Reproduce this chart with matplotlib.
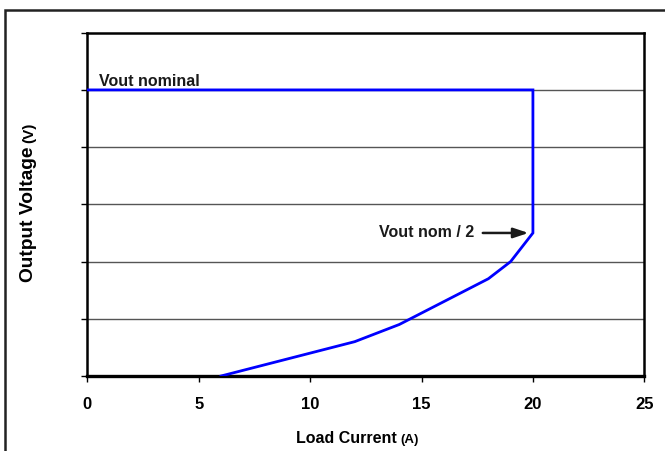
import numpy as np
import matplotlib.pyplot as plt
from matplotlib.patches import Rectangle

plt.rcParams['font.family'] = ['Liberation Sans', 'DejaVu Sans']
plt.rcParams['font.weight'] = 'bold'

# Foldback current-limit curve of the output stage
load_current = [0, 20, 20, 19, 18, 14, 12, 6]
output_voltage = [5, 5, 2.5, 2.0, 1.7, 0.9, 0.6, 0]

x_ticks = [0, 5, 10, 15, 20, 25]
y_ticks = [0, 1, 2, 3, 4, 5, 6]

W, H = 665, 451
fig = plt.figure(figsize=(W / 100, H / 100), dpi=100)

def px(x, y):
    return x / W, 1 - y / H

# frame around the figure (open at right and bottom)
fig.patches.append(Rectangle(px(5, 460), 700 / W, 450 / H, transform=fig.transFigure,
                             fill=False, edgecolor='#222222', linewidth=1.8))

l, t = px(87.4, 32.7)
r, b = px(644.3, 376)
ax = fig.add_axes([l, b, r - l, t - b])

for v in y_ticks[1:-1]:
    ax.axhline(v, color='#555555', linewidth=1.0, zorder=1)

ax.plot(load_current, output_voltage, color='#0000ff', linewidth=2.0, zorder=3,
        solid_joinstyle='miter')

ax.set_xlim(0, 25)
ax.set_ylim(0, 6)
ax.set_xticks(x_ticks)
ax.set_yticks(y_ticks)
ax.set_yticklabels([])
ax.tick_params(axis='x', length=4, width=1, pad=11, labelsize=12, colors='black')
ax.tick_params(axis='y', length=4, width=1, colors='black')
for lab in ax.get_xticklabels():
    lab.set_fontweight('bold')
for s in ax.spines.values():
    s.set_linewidth(1.8)
ax.spines['bottom'].set_linewidth(2.4)

ax.text(0.5, 5.07, 'Vout nominal', fontsize=11.5, fontweight='bold', color='#1a1a1a',
        ha='left', va='baseline')
ax.annotate('', xy=(19.8, 2.5), xytext=(17.75, 2.5),
            arrowprops=dict(arrowstyle='-|>,head_length=0.9,head_width=0.3',
                            color='#1a1a1a', linewidth=1.8, shrinkA=0, shrinkB=0))
ax.text(17.35, 2.5, 'Vout nom / 2', fontsize=11.5, fontweight='bold', color='#1a1a1a',
        ha='right', va='center')

# axis titles with smaller unit text
fig.text(*px(397, 443), 'Load Current', fontsize=11.5, fontweight='bold',
         ha='right', va='baseline')
fig.text(*px(400, 443), '(A)', fontsize=9.5, fontweight='bold',
         ha='left', va='baseline')
fig.text(*px(33, 282), 'Output Voltage', fontsize=13.8, fontweight='bold',
         rotation=90, ha='left', va='baseline', rotation_mode='anchor')
fig.text(*px(33, 143), '(V)', fontsize=11, fontweight='bold',
         rotation=90, ha='left', va='baseline', rotation_mode='anchor')

fig.savefig('out.png', dpi=100)
